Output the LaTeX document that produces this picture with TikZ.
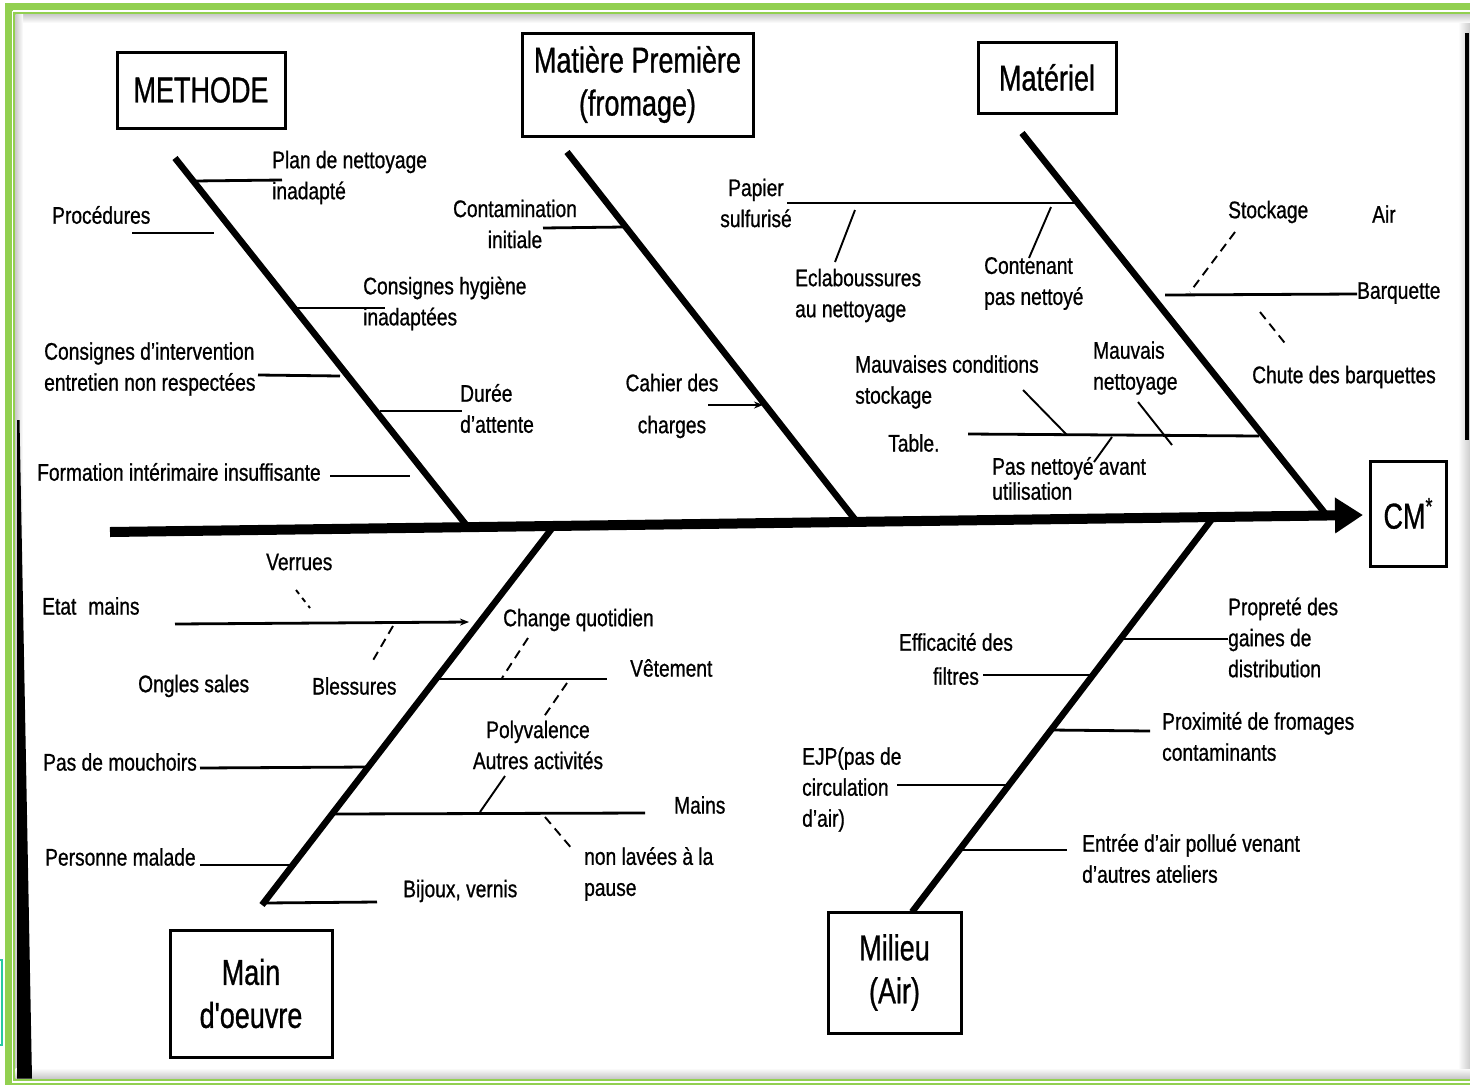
\documentclass[tikz,border=0pt]{standalone}
\usepackage{fontspec}
\setmainfont[FakeStretch=0.8,FakeBold=0.8]{Liberation Sans}
\newfontfamily\boxfont[FakeStretch=0.75,FakeBold=0.8]{Liberation Sans}
\usetikzlibrary{arrows.meta}
\definecolor{frgreen}{RGB}{146,208,80}
\definecolor{artteal}{RGB}{40,200,160}
\begin{document}
\begin{tikzpicture}[x=1pt,y=-1pt,
  lbl/.style={font=\fontsize{24}{31}\selectfont, inner sep=0pt, align=left, anchor=west},
  lblc/.style={lbl, align=center, anchor=center},
  cat/.style={draw, line width=3pt, font=\boxfont\fontsize{36}{43}\selectfont, align=center, inner sep=0pt},
  bone/.style={line width=6.5pt},
  sub/.style={line width=2.8pt},
  slant/.style={line width=1.9pt},
  dsh/.style={line width=1.9pt, dash pattern=on 9pt off 6pt},
  tip/.style={-{Stealth[length=9pt,width=7pt]}}]
\useasboundingbox (0,0) rectangle (1470,1085);
% ---------- frame ----------
\fill[white] (0,0) rectangle (1470,1085);
\fill[frgreen] (5,3) rectangle (1470,1085);
\draw[white, line width=1.3pt] (12.5,11) -- (1470,11);
\draw[white, line width=1.3pt] (12.5,11) -- (12.5,1082) -- (1470,1082);
\fill[white] (15.5,14.5) rectangle (1470,1078.5);
\shade[top color=black!20, bottom color=white] (15.5,14.5) rectangle (1470,23);
\shade[left color=black!20, right color=white] (15.5,14.5) rectangle (23,1078.5);
\shade[bottom color=black!22, top color=white] (15.5,1068) rectangle (1470,1078.5);
\shade[right color=black!20, left color=white] (1458,23) rectangle (1470,1068);
\fill[black] (17,420) -- (19.5,420) -- (32,1078.5) -- (17,1078.5) -- cycle;
\draw[black, line width=4pt] (1467,33) -- (1467,440);
\draw[artteal, line width=1.5pt] (0,960) -- (2,960) -- (2,1045) -- (0,1045);
% ---------- category boxes ----------
\node[cat, minimum width=168pt, minimum height=76pt] (methode) at (201,90) {METHODE};
\node[cat, minimum width=231pt, minimum height=103pt] (matiere) at (637.5,84.5) {Matière Première\\(fromage)};
\node[cat, minimum width=138pt, minimum height=71pt] (materiel) at (1047,77.5) {Matériel};
\node[cat, minimum width=76pt, minimum height=105pt] (cm) at (1408,513.5) {CM\raisebox{14pt}{\fontsize{24}{24}\selectfont *}};
\node[cat, minimum width=162pt, minimum height=127pt] (mainoeuvre) at (251,993.5) {Main\\d'oeuvre};
\node[cat, minimum width=133pt, minimum height=121pt] (milieu) at (894.5,972.5) {Milieu\\(Air)};
% ---------- spine and bones ----------
\coordinate (sp0) at (110,532);
\coordinate (sp1) at (1363,515);
\draw[line width=10pt, -{Triangle[length=28pt,width=34pt]}] (sp0) -- (sp1);
\coordinate (m1) at (175,158);  \coordinate (m2) at (467,526);
\coordinate (p1) at (567,152);  \coordinate (p2) at (857,522);
\coordinate (t1) at (1022,133); \coordinate (t2) at (1328,517);
\coordinate (o1) at (553,527);  \coordinate (o2) at (262,905);
\coordinate (e1) at (1212,519); \coordinate (e2) at (912,912);
\draw[bone] (m1) -- (m2);
\draw[bone] (p1) -- (p2);
\draw[bone] (t1) -- (t2);
\draw[bone] (o1) -- (o2);
\draw[bone] (e1) -- (e2);
% ---------- METHODE ----------
\node[lbl] (lplan) at (272,177.5) {Plan de nettoyage\\inadapté};
\coordinate (mPa) at (194,181); \coordinate (mPb) at (282,180);
\draw[sub] (mPa) -- (mPb);
\node[lbl] (lproc) at (52,215) {Procédures};
\coordinate (mRa) at (132,233); \coordinate (mRb) at (214,233);
\draw[sub] (mRa) -- (mRb);
\node[lbl] (lhyg) at (363,303.5) {Consignes hygiène\\inadaptées};
\coordinate (mHa) at (297,308); \coordinate (mHb) at (385,308);
\draw[sub] (mHa) -- (mHb);
\node[lbl] (linter) at (44,369) {Consignes d'intervention\\entretien non respectées};
\coordinate (mIa) at (258,375); \coordinate (mIb) at (340,376);
\draw[sub] (mIa) -- (mIb);
\node[lbl] (ldur) at (460,408.5) {Durée\\d'attente};
\coordinate (mDa) at (380,411); \coordinate (mDb) at (462,411);
\draw[sub] (mDa) -- (mDb);
\node[lbl] (lform) at (37,472) {Formation intérimaire insuffisante};
\coordinate (mFa) at (330,476); \coordinate (mFb) at (410,476);
\draw[sub] (mFa) -- (mFb);
% ---------- Matiere premiere ----------
\node[lblc] (lcont) at (515,224) {Contamination\\initiale};
\coordinate (pCa) at (543,228); \coordinate (pCb) at (624,227);
\draw[sub] (pCa) -- (pCb);
\node[lblc] (lcah) at (672,406) {Cahier des\\[11pt]charges};
\coordinate (pHa) at (708,405); \coordinate (pHb) at (763,405);
\draw[sub, tip] (pHa) -- (pHb);
% ---------- Materiel ----------
\node[lblc] (lpap) at (756,203) {Papier\\sulfurisé};
\coordinate (tPa) at (787,203); \coordinate (tPb) at (1078,203);
\draw[sub] (tPa) -- (tPb);
\node[lbl] (lecl) at (795,295.5) {Eclaboussures\\au nettoyage};
\coordinate (tEa) at (855,210); \coordinate (tEb) at (835,262);
\draw[slant] (tEa) -- (tEb);
\node[lbl] (lcnt) at (984,283.5) {Contenant\\pas nettoyé};
\coordinate (tCa) at (1051,207); \coordinate (tCb) at (1029,258);
\draw[slant] (tCa) -- (tCb);
\node[lbl] (lstk) at (1228,212) {Stockage};
\node[lbl] (lair) at (1372,214) {Air};
\coordinate (tSa) at (1235,232); \coordinate (tSb) at (1190,292);
\draw[dsh] (tSa) -- (tSb);
\node[lbl] (lbarq) at (1357,293) {Barquette};
\coordinate (tBa) at (1165,295); \coordinate (tBb) at (1357,294);
\draw[sub] (tBa) -- (tBb);
\coordinate (tKa) at (1260,312); \coordinate (tKb) at (1288,347);
\draw[dsh] (tKa) -- (tKb);
\node[lbl] (lchute) at (1252,377) {Chute des barquettes};
\node[lbl] (lmauvc) at (855,382) {Mauvaises conditions\\stockage};
\node[lbl] (lmauvn) at (1093,368) {Mauvais\\nettoyage};
\node[lbl] (ltable) at (888,443) {Table.};
\coordinate (tTa) at (968,434); \coordinate (tTb) at (1259,436);
\draw[sub] (tTa) -- (tTb);
\coordinate (tMa) at (1023,390); \coordinate (tMb) at (1067,435);
\draw[slant] (tMa) -- (tMb);
\coordinate (tNa) at (1138,402); \coordinate (tNb) at (1172,445);
\draw[slant] (tNa) -- (tNb);
\coordinate (tUa) at (1112,437); \coordinate (tUb) at (1094,462);
\draw[slant] (tUa) -- (tUb);
\node[lbl, font=\fontsize{24}{25}\selectfont] (lpasn) at (992,478.5) {Pas nettoyé avant\\utilisation};
% ---------- Main d'oeuvre ----------
\node[lbl] (lverr) at (266,562) {Verrues};
\coordinate (oVa) at (296,590); \coordinate (oVb) at (310,608);
\draw[line width=1.9pt, dash pattern=on 5pt off 5pt] (oVa) -- (oVb);
\node[lbl] (letat) at (42,606) {Etat\enspace mains};
\coordinate (oEa) at (175,624); \coordinate (oEb) at (469,622);
\draw[sub, tip] (oEa) -- (oEb);
\node[lbl] (longl) at (138,686) {Ongles sales};
\node[lbl] (lbles) at (312,686) {Blessures};
\coordinate (oBa) at (393,626); \coordinate (oBb) at (372,662);
\draw[dsh] (oBa) -- (oBb);
\node[lbl] (lchg) at (503,620) {Change quotidien};
\coordinate (oCa) at (528,638); \coordinate (oCb) at (502,678);
\draw[dsh] (oCa) -- (oCb);
\coordinate (oWa) at (437,679); \coordinate (oWb) at (607,679);
\draw[sub] (oWa) -- (oWb);
\node[lbl] (lvet) at (630,668) {Vêtement};
\coordinate (oPa) at (567,683); \coordinate (oPb) at (543,718);
\draw[dsh] (oPa) -- (oPb);
\node[lblc] (lpoly) at (538,745) {Polyvalence\\Autres activités};
\node[lbl] (lmouch) at (43,762) {Pas de mouchoirs};
\coordinate (oMa) at (200,768); \coordinate (oMb) at (367,767);
\draw[sub] (oMa) -- (oMb);
\coordinate (oHa) at (334,814); \coordinate (oHb) at (645,813);
\draw[sub] (oHa) -- (oHb);
\node[lbl] (lmains) at (674,805) {Mains};
\coordinate (oAa) at (505,776); \coordinate (oAb) at (480,812);
\draw[slant] (oAa) -- (oAb);
\coordinate (oLa) at (545,817); \coordinate (oLb) at (573,850);
\draw[dsh] (oLa) -- (oLb);
\node[lbl] (lnonl) at (584,874) {non lavées à la\\pause};
\node[lbl] (lpers) at (45,857) {Personne malade};
\coordinate (oSa) at (200,865); \coordinate (oSb) at (292,865);
\draw[sub] (oSa) -- (oSb);
\coordinate (oJa) at (264,903); \coordinate (oJb) at (377,902);
\draw[sub] (oJa) -- (oJb);
\node[lbl] (lbij) at (403,891) {Bijoux, vernis};
% ---------- Milieu ----------
\node[lbl] (lprop) at (1228,637.5) {Propreté des\\gaines de\\distribution};
\coordinate (eGa) at (1120,639); \coordinate (eGb) at (1228,639);
\draw[sub] (eGa) -- (eGb);
\node[lblc, font=\fontsize{24}{34}\selectfont] (leff) at (956,659) {Efficacité des\\filtres};
\coordinate (eFa) at (983,675); \coordinate (eFb) at (1091,675);
\draw[sub] (eFa) -- (eFb);
\node[lbl] (lprox) at (1162,736.5) {Proximité de fromages\\contaminants};
\coordinate (ePa) at (1051,730); \coordinate (ePb) at (1150,731);
\draw[sub] (ePa) -- (ePb);
\node[lbl] (lejp) at (802,789.5) {EJP(pas de\\circulation\\d'air)};
\coordinate (eJa) at (897,785); \coordinate (eJb) at (1008,785);
\draw[sub] (eJa) -- (eJb);
\node[lbl] (lentr) at (1082,858.5) {Entrée d'air pollué venant\\d'autres ateliers};
\coordinate (eAa) at (961,850); \coordinate (eAb) at (1067,850);
\draw[sub] (eAa) -- (eAb);
\end{tikzpicture}
\end{document}
